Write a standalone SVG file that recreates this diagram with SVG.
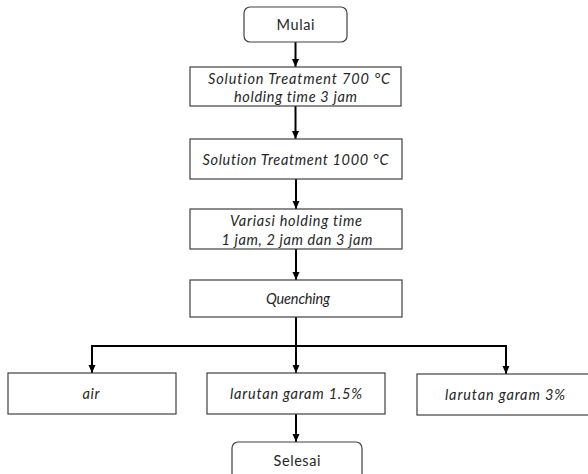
<svg xmlns="http://www.w3.org/2000/svg" width="588" height="474" viewBox="0 0 588 474">
<style>
.box{fill:#ffffff;stroke:#404040;stroke-width:1.2}
.t{font-family:Lato,"Open Sans","Liberation Sans",sans-serif;font-size:14.5px;fill:#262626;text-anchor:middle;font-variant-ligatures:none;font-feature-settings:"liga" 0,"dlig" 0}
.i{font-style:italic}
.c{fill:none;stroke:#000000;stroke-width:2}
</style>
<defs>
<marker id="ah" markerUnits="userSpaceOnUse" markerWidth="8" markerHeight="8" refX="8" refY="3.5" orient="auto">
<path d="M0,0 L8,3.5 L0,7 z" fill="#000000"/>
</marker>
</defs>
<rect width="588" height="474" fill="#ffffff"/>
<g id="connectors">
<line class="c" x1="295.5" y1="42" x2="295.5" y2="67" marker-end="url(#ah)"/>
<line class="c" x1="295.5" y1="106" x2="295.5" y2="139" marker-end="url(#ah)"/>
<line class="c" x1="296" y1="179" x2="296" y2="209" marker-end="url(#ah)"/>
<line class="c" x1="296" y1="249" x2="296" y2="280" marker-end="url(#ah)"/>
<line class="c" x1="296" y1="317" x2="296" y2="346"/>
<line class="c" x1="91" y1="346" x2="507" y2="346"/>
<line class="c" x1="92" y1="346" x2="92" y2="373" marker-end="url(#ah)"/>
<line class="c" x1="296" y1="346" x2="296" y2="373" marker-end="url(#ah)"/>
<line class="c" x1="506" y1="346" x2="506" y2="374" marker-end="url(#ah)"/>
<line class="c" x1="296" y1="414" x2="296" y2="442" marker-end="url(#ah)"/>
</g>
<g id="mulai">
<rect class="box" x="244" y="7" width="103" height="35" rx="6"/>
<text class="t" x="295.5" y="30" textLength="38">Mulai</text>
</g>
<g id="solution700">
<rect class="box" x="190" y="67" width="211" height="39"/>
<text class="t i" x="299" y="84" textLength="182">Solution Treatment 700 °C</text>
<text class="t i" x="295.5" y="101.5" textLength="123">holding time 3 jam</text>
</g>
<g id="solution1000">
<rect class="box" x="190" y="139" width="212" height="40"/>
<text class="t i" x="295.5" y="165" textLength="186">Solution Treatment 1000 °C</text>
</g>
<g id="variasi">
<rect class="box" x="190" y="209" width="212" height="40"/>
<text class="t i" x="296" y="226" textLength="132">Variasi holding time</text>
<text class="t i" x="297" y="245" textLength="151">1 jam, 2 jam dan 3 jam</text>
</g>
<g id="quenching">
<rect class="box" x="190" y="280" width="212" height="37"/>
<text class="t i" x="298" y="304" textLength="64">Quenching</text>
</g>
<g id="air">
<rect class="box" x="8" y="373" width="168" height="41"/>
<text class="t i" x="91" y="399" textLength="17">air</text>
</g>
<g id="garam15">
<rect class="box" x="207" y="373" width="178" height="41"/>
<text class="t i" x="296" y="399" textLength="132">larutan garam 1.5%</text>
</g>
<g id="garam3">
<rect class="box" x="417" y="374" width="185" height="41"/>
<text class="t i" x="505" y="400" textLength="120">larutan garam 3%</text>
</g>
<g id="selesai">
<rect class="box" x="232" y="442" width="130" height="40" rx="6"/>
<text class="t" x="297" y="466" textLength="47">Selesai</text>
</g>
</svg>
